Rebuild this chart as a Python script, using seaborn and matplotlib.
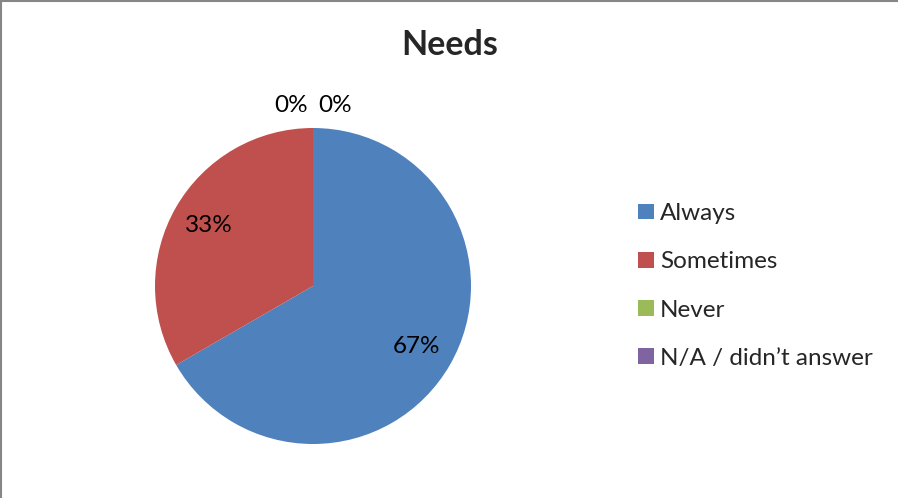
import matplotlib
matplotlib.use("Agg")
import matplotlib.pyplot as plt
from matplotlib.patches import Patch
from matplotlib.lines import Line2D
import seaborn as sns

# Survey responses for "Needs"
categories = ["Always", "Sometimes", "Never", "N/A / didn\u2019t answer"]
counts = [2, 1, 0, 0]
colors = ["#4F81BD", "#C0504D", "#9BBB59", "#8064A2"]

sns.set_theme(style="white")
plt.rcParams["font.family"] = ["Lato", "DejaVu Sans"]
palette = sns.color_palette(colors)

W, H = 898, 498
fig = plt.figure(figsize=(W / 100, H / 100), dpi=100)
fig.patch.set_facecolor("white")

# pie axes: centre (313, 286) px, radius 158 px
cx, cy, r = 313, 286, 158
ax = fig.add_axes([(cx - r) / W, (H - cy - r) / H, 2 * r / W, 2 * r / H])

wedges, texts, autotexts = ax.pie(
    counts,
    colors=palette,
    startangle=90,
    counterclock=False,
    autopct=lambda p: f"{p:.0f}%",
    pctdistance=0.76,
    radius=1.0,
    wedgeprops=dict(linewidth=0),
    textprops=dict(fontsize=17.5, color="black"),
)
ax.set_xlim(-1, 1)
ax.set_ylim(-1, 1)
ax.set_aspect("equal")

# zero-size slices sit at the top; their labels go just outside the rim
zero_x = [-0.14, 0.14]
k = 0
for t, v in zip(autotexts, counts):
    if v == 0:
        t.set_position((zero_x[k % 2], 1.14))
        k += 1

fig.text(450 / W, 1 - 45 / H, "Needs", ha="center", va="center",
         fontsize=24.5, fontweight="bold")

handles = [Patch(facecolor=c, edgecolor="none") for c in palette]
fig.legend(handles, categories, loc="center left",
           bbox_to_anchor=(638 / W, 1 - 286 / H), frameon=False,
           fontsize=17.5, handlelength=0.66, handleheight=0.62,
           handletextpad=0.25, labelspacing=1.12, borderpad=0,
           borderaxespad=0)

# chart-area border on the top and left edges
fig.add_artist(Line2D([1 / W, 1 / W], [0, 1], transform=fig.transFigure,
                      color="#868686", linewidth=1.5))
fig.add_artist(Line2D([0, 1], [1 - 1 / H, 1 - 1 / H], transform=fig.transFigure,
                      color="#868686", linewidth=1.5))

fig.savefig("out.png", dpi=100, facecolor="white")
